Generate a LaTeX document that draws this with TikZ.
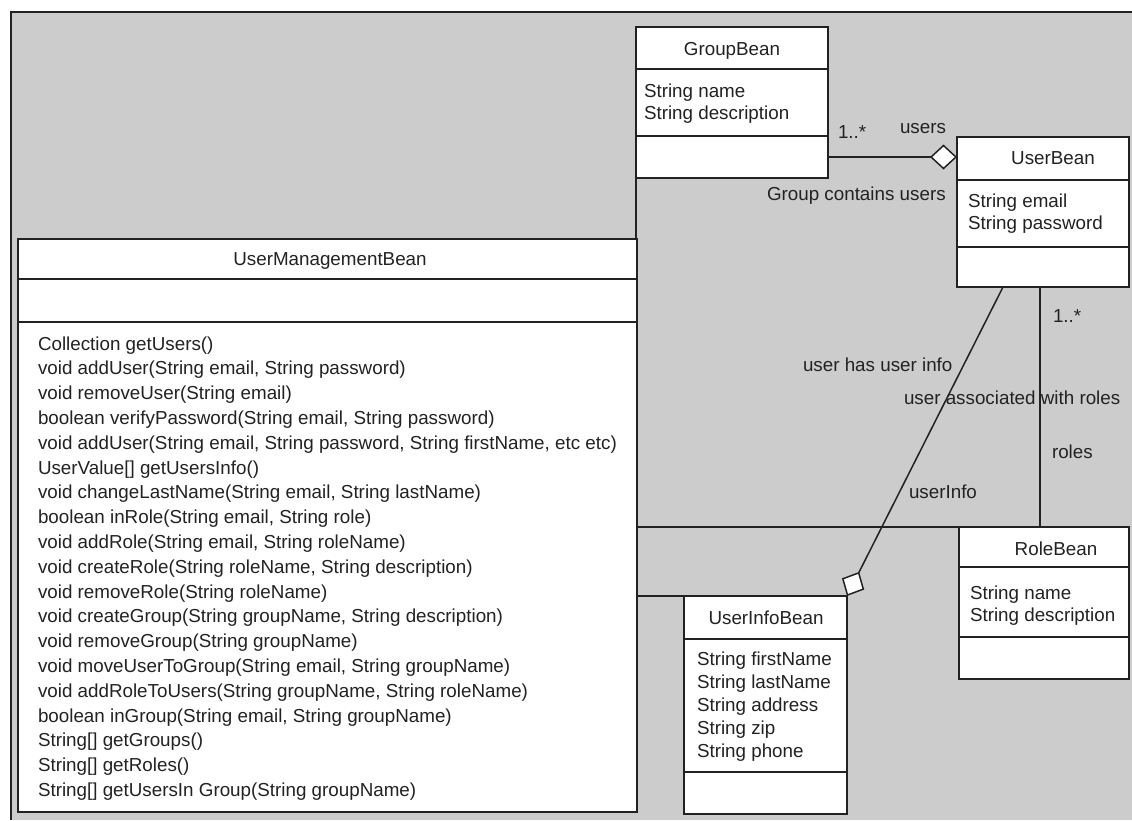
\documentclass[tikz,border=0pt]{standalone}
\usepackage{fontspec}
\setmainfont{Liberation Sans}
\usepackage{xcolor}
\definecolor{canvas}{RGB}{204,204,204}
\definecolor{ink}{RGB}{34,34,34}
\usetikzlibrary{positioning}
\usetikzlibrary{calc,arrows.meta}
\newcommand\umlfont{\fontsize{18.8}{22}\selectfont}

\begin{document}
\begin{tikzpicture}[x=1pt,y=-1pt,line width=1.5pt,draw=ink,
    every node/.style={inner sep=0,outer sep=0,font=\umlfont,text=ink},
    classbox/.style={draw=ink,fill=white,anchor=north west},
    assoc/.style={draw=ink},
    aggr/.style={assoc,-{Diamond[fill=white,length=27pt,width=25pt]}}]
    \useasboundingbox (0,0) rectangle (1132,820);
    \fill[canvas] (11,12) rectangle (1132,820);
    \draw (11,820) -- (11,12) -- (1132,12);

    % class boxes
	\node[classbox,minimum width=192,minimum height=151] (group) at (636,27) {};
	\node[classbox,minimum width=172,minimum height=150] (user) at (957,137) {};
	\node[classbox,minimum width=619,minimum height=573] (umb) at (18,239) {};
	\node[classbox,minimum width=170,minimum height=152] (role) at (959,527) {};
	\node[classbox,minimum width=163,minimum height=218] (info) at (684,596) {};
    \draw ([yshift=-42pt]group.north west) -- ([yshift=-42pt]group.north east);
    \draw ([yshift=-109pt]group.north west) -- ([yshift=-109pt]group.north east);
    \draw ([yshift=-43pt]user.north west) -- ([yshift=-43pt]user.north east);
    \draw ([yshift=-110pt]user.north west) -- ([yshift=-110pt]user.north east);
    \draw ([yshift=-40pt]umb.north west) -- ([yshift=-40pt]umb.north east);
    \draw ([yshift=-83pt]umb.north west) -- ([yshift=-83pt]umb.north east);
    \draw ([yshift=-40pt]role.north west) -- ([yshift=-40pt]role.north east);
    \draw ([yshift=-110pt]role.north west) -- ([yshift=-110pt]role.north east);
    \draw ([yshift=-43pt]info.north west) -- ([yshift=-43pt]info.north east);
    \draw ([yshift=-176pt]info.north west) -- ([yshift=-176pt]info.north east);

    % titles
	\node[anchor=base] (groupT) at (732,55) {GroupBean};
	\node[anchor=base] (userT) at (1053,164) {UserBean};
	\node[anchor=base] (umbT) at (330,265) {UserManagementBean};
	\node[anchor=base] (roleT) at (1056,555) {RoleBean};
	\node[anchor=base] (infoT) at (766,624) {UserInfoBean};

    % attributes
    \foreach \txt [count=\i] in {String name, String description}
        \node[anchor=base west] (groupA\i) at (644,{97+22*(\i-1)}) {\txt};
    \foreach \txt [count=\i] in {String email, String password}
        \node[anchor=base west] (userA\i) at (968,{207+22*(\i-1)}) {\txt};
    \foreach \txt [count=\i] in {String name, String description}
        \node[anchor=base west] (roleA\i) at (970,{599+22*(\i-1)}) {\txt};
    \foreach \txt [count=\i] in {String firstName, String lastName, String address, String zip, String phone}
        \node[anchor=base west] (infoA\i) at (697,{665+23*(\i-1)}) {\txt};

    % methods
    \foreach \txt [count=\i] in {Collection getUsers(),
        {void addUser(String email, String password)},
        void removeUser(String email),
        {boolean verifyPassword(String email, String password)},
        {void addUser(String email, String password, String firstName, etc etc)},
        UserValue[] getUsersInfo(),
        {void changeLastName(String email, String lastName)},
        {boolean inRole(String email, String role)},
        {void addRole(String email, String roleName)},
        {void createRole(String roleName, String description)},
        void removeRole(String roleName),
        {void createGroup(String groupName, String description)},
        void removeGroup(String groupName),
        {void moveUserToGroup(String email, String groupName)},
        {void addRoleToUsers(String groupName, String roleName)},
        {boolean inGroup(String email, String groupName)},
        String[] getGroups(),
        String[] getRoles(),
        String[] getUsersIn Group(String groupName)}
        \node[anchor=base west] (umbM\i) at (38,{350+24.8*(\i-1)}) {\txt};

    % associations
    \draw[assoc] (group.south west) -- (group.south west |- umb.north);
    \draw[aggr] (group.east |- 0,157) -- (user.west |- 0,157);
    \draw[assoc] (1040,0 |- user.south) -- (1040,0 |- role.north);
    \draw[assoc] (umb.east |- role.north) -- (role.north west);
    \draw[assoc] (umb.east |- info.north) -- (info.north west);
    \draw[aggr] (1003,0 |- user.south) -- (info.north east);

    % association labels
	\node[anchor=base west] (grpMult) at (838,138) {1..*};
	\node[anchor=base west] (grpRole) at (900,133) {users};
	\node[anchor=base west] (grpName) at (767,200) {Group contains users};
	\node[anchor=base west] (infoName) at (803,371) {user has user info};
	\node[anchor=base west] (infoRole) at (909,498) {userInfo};
	\node[anchor=base west] (roleName) at (904,404) {user associated with roles};
	\node[anchor=base west] (roleMult) at (1053,322) {1..*};
	\node[anchor=base west] (roleRole) at (1052,458) {roles};
\end{tikzpicture}
\end{document}
